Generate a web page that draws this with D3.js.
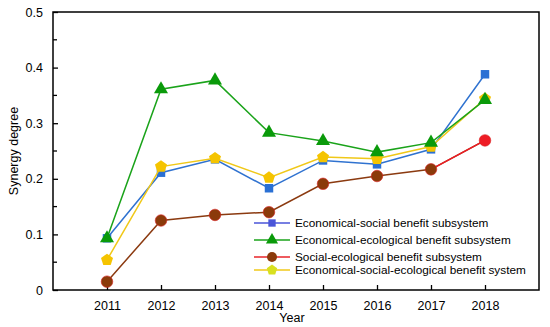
<!DOCTYPE html>
<html>
<head>
<meta charset="utf-8">
<script src="https://cdn.jsdelivr.net/npm/d3@7"></script>
<style>
  body { margin: 0; background: #fff; }
  svg { font-family: Arial, "Liberation Sans", sans-serif; }
</style>
</head>
<body>
<svg id="chart" width="550" height="327"></svg>
<script>
var years = [2011, 2012, 2013, 2014, 2015, 2016, 2017, 2018];
var yTicks = [0, 0.1, 0.2, 0.3, 0.4, 0.5];
var seriesNames = [
  "Economical-social benefit subsystem",
  "Economical-ecological benefit subsystem",
  "Social-ecological benefit subsystem",
  "Economical-social-ecological benefit system"
];
var econSocial = [0.093, 0.211, 0.235, 0.183, 0.233, 0.226, 0.253, 0.388];
var econEco = [0.093, 0.361, 0.377, 0.283, 0.268, 0.248, 0.265, 0.342];
var socialEco = [0.015, 0.125, 0.135, 0.140, 0.191, 0.205, 0.217, 0.269];
var econSocialEco = [0.054, 0.222, 0.237, 0.202, 0.239, 0.236, 0.258, 0.344];

var margin = { left: 53, right: 11, top: 12, bottom: 37 };
var width = 550, height = 327;
var svg = d3.select("#chart");

var x = d3.scaleLinear().domain([2010, 2019]).range([margin.left, width - margin.right]);
var y = d3.scaleLinear().domain([0, 0.5]).range([height - margin.bottom, margin.top]);

// pentagon symbol (d3 v7 has none)
var symbolPentagon = {
  draw: function (context, size) {
    var r = Math.sqrt(size / 2.378);
    for (var i = 0; i < 5; i++) {
      var a = -Math.PI / 2 + i * 2 * Math.PI / 5;
      if (i === 0) context.moveTo(r * Math.cos(a), r * Math.sin(a));
      else context.lineTo(r * Math.cos(a), r * Math.sin(a));
    }
    context.closePath();
  }
};

// frame
svg.append("rect")
  .attr("x", margin.left).attr("y", margin.top)
  .attr("width", width - margin.right - margin.left)
  .attr("height", height - margin.bottom - margin.top)
  .attr("fill", "none").attr("stroke", "#000").attr("stroke-width", 1.5);

// y axis, ticks inside
var yAxis = d3.axisLeft(y).tickValues(yTicks).tickSizeInner(-5).tickSizeOuter(0).tickPadding(10)
  .tickFormat(function (d) { return d === 0 ? "0" : d3.format(".1f")(d); });
var gy = svg.append("g").attr("transform", "translate(" + margin.left + ",0)").call(yAxis);
gy.select(".domain").remove();
gy.selectAll("line").attr("stroke-width", 1.3);
gy.selectAll("text").style("font-size", "12.5px").attr("fill", "#000");
// minor y ticks
svg.append("g").selectAll("line")
  .data([0.05, 0.15, 0.25, 0.35, 0.45]).enter().append("line")
  .attr("x1", margin.left).attr("x2", margin.left + 4)
  .attr("y1", function (d) { return y(d); }).attr("y2", function (d) { return y(d); })
  .attr("stroke", "#000").attr("stroke-width", 1.3);

// x axis
var xAxis = d3.axisBottom(x).tickValues(years).tickSizeInner(-5).tickSizeOuter(0).tickPadding(11)
  .tickFormat(d3.format("d"));
var gx = svg.append("g").attr("transform", "translate(0," + (height - margin.bottom) + ")").call(xAxis);
gx.select(".domain").remove();
gx.selectAll("line").attr("stroke-width", 1.3);
gx.selectAll("text").style("font-size", "12.5px").attr("fill", "#000");

svg.append("text")
  .attr("x", 292).attr("y", 322)
  .attr("text-anchor", "middle").style("font-size", "12.5px").text("Year");
svg.append("text")
  .attr("transform", "translate(18," + ((margin.top + height - margin.bottom) / 2) + ")rotate(-90)")
  .attr("text-anchor", "middle").style("font-size", "12.5px").text("Synergy degree");

var line = d3.line()
  .x(function (d, i) { return x(years[i]); })
  .y(function (d) { return y(d); });

var series = [
  { name: seriesNames[0], values: econSocial, line: "#2f72d0", fill: "#2a70d4", symbol: d3.symbolSquare, size: 72 },
  { name: seriesNames[1], values: econEco, line: "#1aa31a", fill: "#0a9a0a", symbol: d3.symbolTriangle, size: 85 },
  { name: seriesNames[2], values: socialEco, line: "#8b3a10", fill: "#8b3a0a", symbol: d3.symbolCircle, size: 105 },
  { name: seriesNames[3], values: econSocialEco, line: "#f0c818", fill: "#f5c400", symbol: symbolPentagon, size: 95 }
];

// draw in order so green is visible on top like the reference
var drawOrder = [2, 0, 3, 1];
drawOrder.forEach(function (k) {
  var s = series[k];
  var g = svg.append("g");
  g.append("path").datum(s.values)
    .attr("d", line).attr("fill", "none")
    .attr("stroke", s.line).attr("stroke-width", 1.5);
  if (k === 2) {
    // last segment in red
    var n = s.values.length;
    g.append("path").datum(s.values.slice(n - 2))
      .attr("d", d3.line().x(function (d, i) { return x(years[n - 2 + i]); }).y(function (d) { return y(d); }))
      .attr("fill", "none").attr("stroke", "#ee1c25").attr("stroke-width", 1.5);
  }
  g.selectAll("path.m").data(s.values).enter().append("path")
    .attr("class", "m")
    .attr("transform", function (d, i) { return "translate(" + x(years[i]) + "," + y(d) + ")"; })
    .attr("d", d3.symbol().type(s.symbol).size(s.size))
    .attr("fill", function (d, i) { return (k === 2 && i === years.length - 1) ? "#ee1c25" : s.fill; })
    .attr("stroke", k === 2 ? "#d82020" : "none").attr("stroke-width", 0.6);
});

// legend
var legendY = [223, 240, 257, 270];
var lg = svg.append("g");
series.forEach(function (s, i) {
  var yy = legendY[i];
  lg.append("line").attr("x1", 254).attr("x2", 290).attr("y1", yy).attr("y2", yy)
    .attr("stroke", i === 0 ? "#4a55d8" : (i === 2 ? "#e8242a" : s.line)).attr("stroke-width", 1.3);
  lg.append("path").attr("transform", "translate(272," + yy + ")")
    .attr("d", d3.symbol().type(s.symbol).size(s.size * 0.75))
    .attr("fill", i === 0 ? "#4a55d8" : (i === 3 ? "#d8e020" : s.fill));
  lg.append("text").attr("x", 295).attr("y", yy).attr("dy", "0.35em")
    .style("font-size", "11.8px").text(s.name);
});
</script>
</body>
</html>
